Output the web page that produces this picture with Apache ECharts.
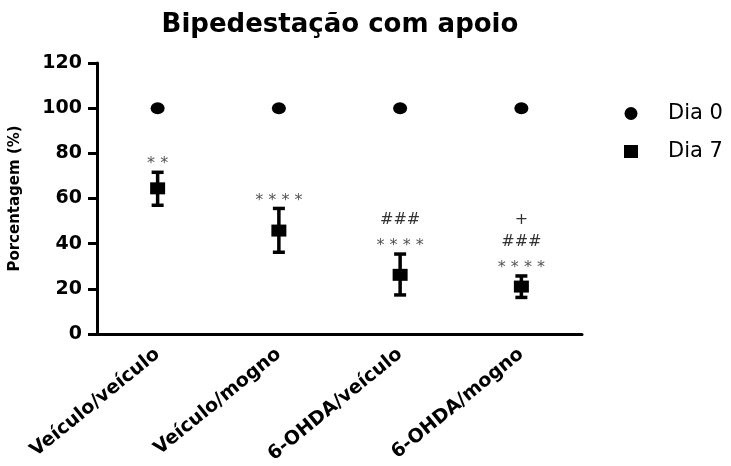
<!DOCTYPE html>
<html>
<head>
<meta charset="utf-8">
<script src="https://cdn.jsdelivr.net/npm/echarts@6/dist/echarts.min.js"></script>
<style>
  html, body { margin: 0; padding: 0; background: #fff; }
  #chart { width: 731px; height: 466px; }
</style>
</head>
<body>
<div id="chart"></div>
<script>
// Groups on the x axis
const categories = ['Veículo/veículo', 'Veículo/mogno', '6-OHDA/veículo', '6-OHDA/mogno'];
// Day 0 values (%)
const dia0 = [100, 100, 100, 100];
// Day 7 mean and error-bar limits (%)
const dia7 = [64.5, 45.8, 26.2, 21.0];
const dia7Low = [57.0, 36.2, 17.3, 16.2];
const dia7High = [71.6, 55.6, 35.4, 25.7];
// Y axis ticks
const yMin = 0, yMax = 120, yStep = 20;
// Significance marks above each Day 7 point, bottom row first
const annotations = [
  ['* *'],
  ['* * * *'],
  ['* * * *', '###'],
  ['* * * *', '###', '+']
];

const chart = echarts.init(document.getElementById('chart'));

const errData = categories.map((c, i) => [i, dia7Low[i], dia7High[i]]);

function renderErrorBar(params, api) {
  const idx = api.value(0);
  const lo = api.coord([idx, api.value(1)]);
  const hi = api.coord([idx, api.value(2)]);
  const half = 6;
  const st = { stroke: '#000', lineWidth: 3.5 };
  const children = [
    { type: 'line', shape: { x1: lo[0], y1: lo[1], x2: hi[0], y2: hi[1] }, style: st },
    { type: 'line', shape: { x1: lo[0] - half, y1: lo[1], x2: lo[0] + half, y2: lo[1] }, style: st },
    { type: 'line', shape: { x1: hi[0] - half, y1: hi[1], x2: hi[0] + half, y2: hi[1] }, style: st }
  ];
  annotations[params.dataIndex].forEach((t, r) => {
    const isStar = t.indexOf('*') >= 0;
    children.push({
      type: 'text',
      x: hi[0],
      y: hi[1] - 12 - r * 22 + (isStar ? 4 : 0),
      style: {
        text: t,
        fill: isStar ? '#555' : '#333',
        font: '16px "DejaVu Sans"',
        align: 'center',
        verticalAlign: 'middle'
      }
    });
  });
  return { type: 'group', children };
}

chart.setOption({
  backgroundColor: '#fff',
  animation: false,
  title: {
    text: 'Bipedestação com apoio',
    left: 335,
    top: 7,
    textAlign: 'center',
    textStyle: { fontFamily: 'DejaVu Sans', fontWeight: 'bold', fontSize: 26, color: '#000' }
  },
  legend: {
    orient: 'vertical',
    left: 619,
    top: 98,
    itemWidth: 14,
    itemHeight: 13,
    itemGap: 17,
    data: [{ name: 'Dia 0', icon: 'circle' }, { name: 'Dia 7', icon: 'rect' }],
    textStyle: { fontFamily: 'DejaVu Sans', fontSize: 21, color: '#000', lineHeight: 20, padding: [0, 0, 0, 25] }
  },
  grid: { left: 97, right: 149, top: 63, bottom: 132, containLabel: false, outerBoundsMode: 'none' },
  xAxis: {
    type: 'category',
    data: categories,
    axisLine: { lineStyle: { color: '#000', width: 3 } },
    axisTick: { alignWithLabel: true, length: 8, lineStyle: { color: '#000', width: 3 } },
    axisLabel: {
      rotate: 39,
      margin: 18,
      color: '#000',
      fontFamily: 'DejaVu Sans',
      fontWeight: 'bold',
      fontSize: 19
    }
  },
  yAxis: {
    type: 'value',
    min: yMin,
    max: yMax,
    interval: yStep,
    name: 'Porcentagem (%)',
    nameLocation: 'middle',
    nameGap: 74,
    nameTextStyle: { fontFamily: 'DejaVu Sans', fontWeight: 'bold', fontSize: 15, color: '#000' },
    splitLine: { show: false },
    axisLine: { show: true, lineStyle: { color: '#000', width: 3 } },
    axisTick: { show: true, length: 9, lineStyle: { color: '#000', width: 3 } },
    axisLabel: { margin: 15, color: '#000', fontFamily: 'DejaVu Sans', fontWeight: 'bold', fontSize: 19 }
  },
  series: [
    {
      name: 'Dia 7 erro',
      type: 'custom',
      renderItem: renderErrorBar,
      data: errData,
      z: 3
    },
    {
      name: 'Dia 0',
      type: 'scatter',
      data: dia0,
      symbol: 'circle',
      symbolSize: [14, 12],
      itemStyle: { color: '#000', opacity: 1 },
      z: 4
    },
    {
      name: 'Dia 7',
      type: 'scatter',
      data: dia7,
      symbol: 'rect',
      symbolSize: [15, 12],
      itemStyle: { color: '#000', opacity: 1 },
      z: 4
    }
  ]
});
</script>
</body>
</html>
